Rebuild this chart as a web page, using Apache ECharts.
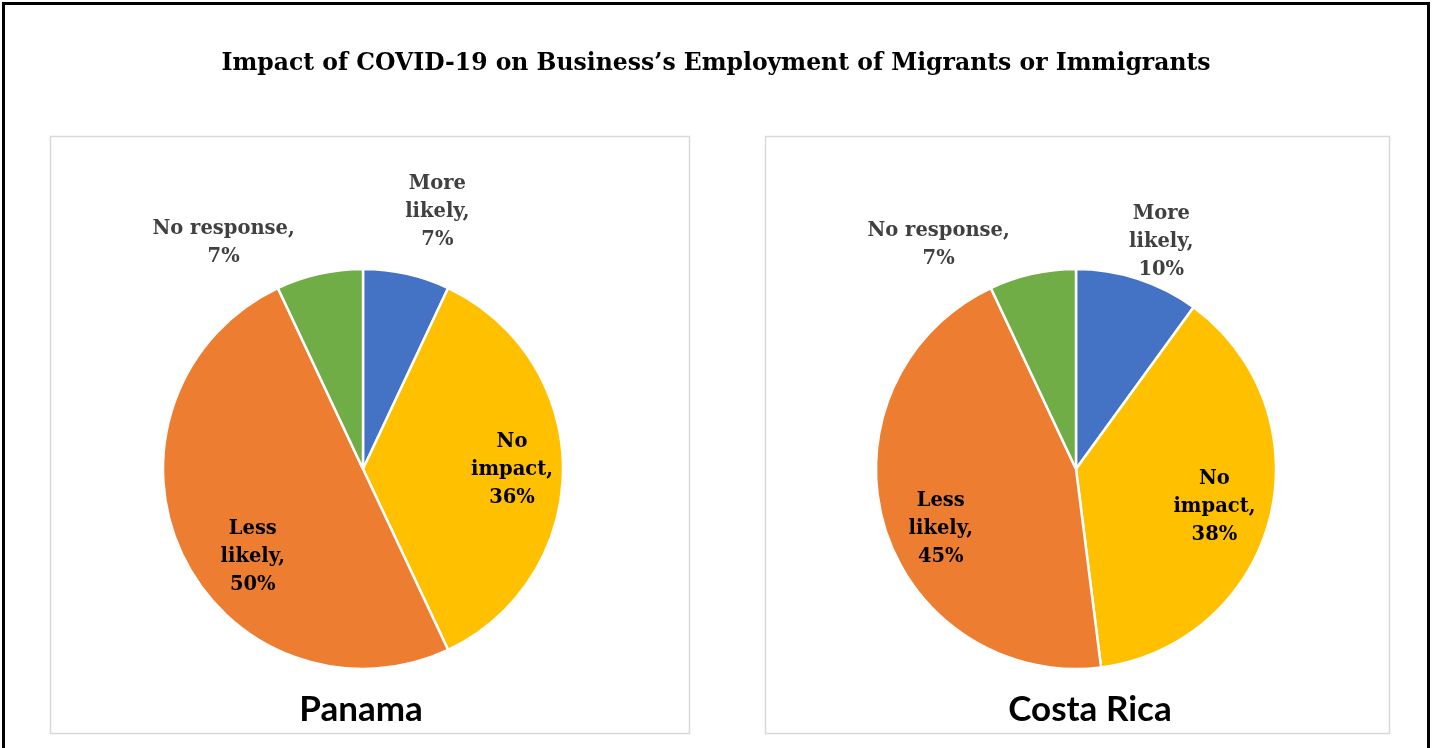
<!DOCTYPE html>
<html>
<head>
<meta charset="utf-8">
<script src="https://cdn.jsdelivr.net/npm/echarts@6/dist/echarts.min.js"></script>
<style>
  html, body { margin: 0; padding: 0; background: #fff; }
  #chart { width: 1432px; height: 748px; }
</style>
</head>
<body>
<div id="chart"></div>
<script>
// Survey response categories (clockwise from 12 o'clock)
const categories = ['More likely', 'No impact', 'Less likely', 'No response'];
// Share of businesses (%) per country
const panamaValues = [7, 36, 50, 7];
const costaRicaValues = [10, 38, 45, 7];
const countries = ['Panama', 'Costa Rica'];
const chartTitle = 'Impact of COVID-19 on Business\u2019s Employment of Migrants or Immigrants';

// How each category name wraps inside its data label
const wrappedNames = {
  'More likely': 'More\nlikely',
  'No impact': 'No\nimpact',
  'Less likely': 'Less\nlikely',
  'No response': 'No response'
};

const colors = ['#4472C4', '#FFC000', '#ED7D31', '#70AD47'];
// Small slices carry their label outside the pie, large ones inside
const outsideLabel = { 'More likely': true, 'No impact': false, 'Less likely': false, 'No response': true };

// Fine label nudges [dx, dy] per country panel
const labelNudge = [
  { 'More likely': [17, 0], 'No impact': [4, 1], 'Less likely': [21, 26], 'No response': [-82, 31] },
  { 'More likely': [4, 23], 'No impact': [-2, 2], 'Less likely': [4, 19], 'No response': [-80, 33] }
];

const R = 200;
const centers = [[363, 469], [1076, 469]];
const labelFont = { fontFamily: 'DejaVu Serif', fontWeight: 'bold', fontSize: 19.5, lineHeight: 28 };

function pieSeries(values, idx) {
  const base = {
    type: 'pie',
    center: centers[idx],
    radius: [0, R],
    startAngle: 90,
    clockwise: true,
    label: { show: false },
    labelLine: { show: false },
    emphasis: { disabled: true },
    silent: true,
    itemStyle: { borderColor: '#fff', borderWidth: 2.5 },
    data: categories.map((c, i) => ({ name: c, value: values[i], itemStyle: { color: colors[i] } }))
  };
  // transparent rings that position the labels along each slice's mid-angle
  const ring = (inner, outer, outside) => ({
    type: 'pie',
    center: centers[idx],
    radius: [inner, outer],
    startAngle: 90,
    clockwise: true,
    silent: true,
    emphasis: { disabled: true },
    avoidLabelOverlap: false,
    labelLine: { show: false },
    itemStyle: { color: 'rgba(0,0,0,0)', borderWidth: 0 },
    label: Object.assign({
      position: 'inside',
      align: 'center',
      verticalAlign: 'middle',
      color: outside ? '#404040' : '#000',
      formatter: p => wrappedNames[p.name] + ',\n' + p.value + '%'
    }, labelFont),
    data: categories.map((c, i) => ({
      name: c,
      value: values[i],
      label: { show: outsideLabel[c] === outside, offset: labelNudge[idx][c] }
    }))
  });
  return [base, ring(R * 0.42, R, false), ring(R, R * 1.6, true)];
}

const chart = echarts.init(document.getElementById('chart'), null, { renderer: 'canvas' });
chart.setOption({
  backgroundColor: '#fff',
  animation: false,
  title: {
    text: chartTitle,
    left: 'center',
    top: 47,
    textStyle: { fontFamily: 'DejaVu Serif', fontWeight: 'bold', fontSize: 23.5, color: '#000' }
  },
  graphic: [
    { type: 'rect', shape: { x: 3.5, y: 3.5, width: 1425, height: 800 }, style: { fill: 'none', stroke: '#000', lineWidth: 3 }, z: 100 },
    { type: 'rect', shape: { x: 50.5, y: 136.5, width: 639, height: 597 }, style: { fill: 'none', stroke: '#d9d9d9', lineWidth: 1.5 } },
    { type: 'rect', shape: { x: 765.5, y: 136.5, width: 624, height: 597 }, style: { fill: 'none', stroke: '#d9d9d9', lineWidth: 1.5 } },
    { type: 'text', x: centers[0][0] - 2, y: 710, style: { text: countries[0], fontFamily: 'Lato', fontWeight: 'bold', fontSize: 35, fill: '#000', align: 'center', verticalAlign: 'middle' } },
    { type: 'text', x: centers[1][0] + 14, y: 710, style: { text: countries[1], fontFamily: 'Lato', fontWeight: 'bold', fontSize: 35, fill: '#000', align: 'center', verticalAlign: 'middle' } }
  ],
  series: [...pieSeries(panamaValues, 0), ...pieSeries(costaRicaValues, 1)]
});
</script>
</body>
</html>
